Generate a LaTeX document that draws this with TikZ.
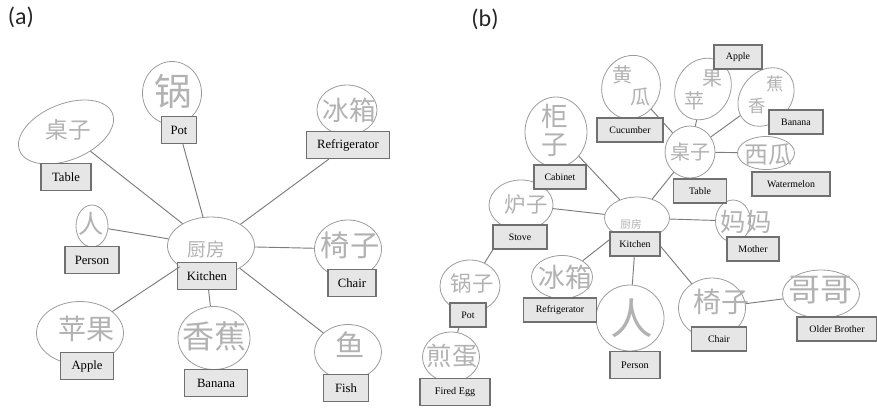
\documentclass[tikz,border=0pt]{standalone}
\usepackage{fontspec}
\setmainfont{Liberation Serif}
\newfontfamily\cjk{Noto Sans CJK SC}
\newfontfamily\tagfont{Carlito}
\usetikzlibrary{shapes.geometric}
\definecolor{strokegray}{HTML}{9C9C9C}
\definecolor{linkgray}{HTML}{7C7C7C}
\definecolor{boxfill}{HTML}{E6E6E6}
\definecolor{boxedge}{HTML}{707070}
\definecolor{glyph}{HTML}{B2B2B2}
\begin{document}
\begin{tikzpicture}[x=0.75pt,y=-0.75pt,
  bubble/.style n args={2}{draw=strokegray, line width=0.6pt, ellipse, inner sep=0pt,
    minimum width=#1*0.75pt, minimum height=#2*0.75pt},
  taga/.style={draw=boxedge, fill=boxfill, line width=1pt, inner sep=0pt,
    minimum height=27*0.75pt, minimum width=#1*0.75pt, font=\fontsize{9.5}{10}\selectfont},
  tagb/.style={draw=boxedge, fill=boxfill, line width=1pt, inner sep=0pt,
    minimum height=24*0.75pt, minimum width=#1*0.75pt, font=\fontsize{7.4}{8}\selectfont},
  han/.style={text=glyph, inner sep=0pt, font=\cjk\fontsize{#1}{#1}\selectfont},
  link/.style={draw=linkgray, line width=0.7pt},
  panel/.style={inner sep=0pt, font=\tagfont\fontsize{18}{20}\selectfont, text=black!85}
]
\fill[white] (0,0) rectangle (877,408);
\useasboundingbox (0,0) rectangle (877,408);

% ---------------- panel (a) ----------------
\node[panel] (capA) at (21,17) {(a)};

\node[bubble={100}{56}, rotate=22] (tblA) at (66,132) {};
\node[bubble={59}{63}] (potA) at (172,93) {};
\node[bubble={60}{50}] (friA) at (347,110) {};
\node[bubble={87}{58}] (kitA) at (211,246) {};
\node[bubble={32}{42}] (perA) at (92,226) {};
\node[bubble={87}{63}] (appA) at (80,333) {};
\node[bubble={72}{63}] (banA) at (214,338) {};
\node[bubble={67}{58}] (chaA) at (348,249) {};
\node[bubble={67}{55}] (fisA) at (348,352) {};

\node[han=17] (hTblA) at (68,130) {桌子};
\node[han=28] (hPotA) at (173,91) {锅};
\node[han=20] (hFriA) at (349,110) {冰箱};
\node[han=14] (hKitA) at (206,249) {厨房};
\node[han=19] (hPerA) at (91,224) {人};
\node[han=21] (hAppA) at (86,329) {苹果};
\node[han=24] (hBanA) at (214,336) {香蕉};
\node[han=22] (hChaA) at (350,245) {椅子};
\node[han=22] (hFisA) at (350,345) {鱼};

\node[taga=50] (tTblA) at (66,177) {Table};
\node[taga=35] (tPotA) at (179,130) {Pot};
\node[taga=83] (tFriA) at (348,145) {Refrigerator};
\node[taga=59] (tKitA) at (207,276) {Kitchen};
\node[taga=54] (tPerA) at (92,260) {Person};
\node[taga=53] (tAppA) at (87,366) {Apple};
\node[taga=63] (tBanA) at (216,383) {Banana};
\node[taga=48] (tChaA) at (352,283) {Chair};
\node[taga=45] (tFisA) at (346,388) {Fish};

% ---------------- panel (b) ----------------
\node[panel] (capB) at (485,19) {(b)};

\node[bubble={62}{70}] (cabB) at (556,132) {};
\node[bubble={58}{64}, rotate=-20] (cucB) at (631,87) {};
\node[bubble={54}{64}, rotate=-30] (appB) at (703,89) {};
\node[bubble={64}{50}, rotate=50] (banB) at (766,97) {};
\node[bubble={50}{52}] (tblB) at (690,152) {};
\node[bubble={57}{33}] (watB) at (766,153) {};
\node[bubble={65}{42}] (kitB) at (637,218) {};
\node[bubble={64}{50}] (stoB) at (521,205) {};
\node[bubble={60}{52}] (potB) at (470,286) {};
\node[bubble={57}{50}] (eggB) at (451,357) {};
\node[bubble={61}{43}] (friB) at (562,277) {};
\node[bubble={68}{66}] (perB) at (630,318) {};
\node[bubble={35}{42}] (motB) at (733,221) {};
\node[bubble={67}{60}] (chaB) at (712,308) {};
\node[bubble={77}{48}] (broB) at (821,294) {};

% characters written on a slant are set one by one
\node[han=20] (hCabB1) at (555,116) {柜};
\node[han=20] (hCabB2) at (555,145) {子};
\node[han=15] (hCucB1) at (622,75) {黄};
\node[han=15] (hCucB2) at (640,97) {瓜};
\node[han=15] (hAppB1) at (694,101) {苹};
\node[han=15] (hAppB2) at (712,78) {果};
\node[han=13] (hBanB1) at (757,106) {香};
\node[han=13] (hBanB2) at (775,84) {蕉};
\node[han=15] (hTblB) at (690,152) {桌子};
\node[han=18] (hWatB) at (768,155) {西瓜};
\node[han=8] (hKitB) at (631,224) {厨房};
\node[han=16] (hStoB) at (526,204) {炉子};
\node[han=16] (hPotB) at (472,283) {锅子};
\node[han=19] (hEggB) at (452,356) {煎蛋};
\node[han=20] (hFriB) at (565,277) {冰箱};
\node[han=32] (hPerB) at (632,318) {人};
\node[han=19] (hMotB) at (746,222) {妈妈};
\node[han=21] (hChaB) at (721,302) {椅子};
\node[han=24] (hBroB) at (820,290) {哥哥};

% ---------------- connectors ----------------
\draw[link] (kitA) -- (tblA);
\draw[link] (kitA) -- (tPotA);
\draw[link] (kitA) -- (tFriA);
\draw[link] (kitA) -- (chaA);
\draw[link] (kitA) -- (fisA);
\draw[link] (tKitA) -- (banA);
\draw[link] (kitA) -- (appA);
\draw[link] (kitA) -- (perA);

\draw[link] (kitB) -- (cabB);
\draw[link] (kitB) -- (tblB);
\draw[link] (kitB) -- (stoB);
\draw[link] (kitB) -- (motB);
\draw[link] (friB) -- (kitB);
\draw[link] (kitB) -- (perB);
\draw[link] (kitB) -- (chaB);
\draw[link] (stoB) -- (potB);
\draw[link] (potB) -- (eggB);
\draw[link] (chaB) -- (broB);
\draw[link] (tblB) -- (cucB);
\draw[link] (tblB) -- (appB);
\draw[link] (tblB) -- (banB);
\draw[link] (tblB) -- (watB);

% ---------------- labels of panel (b) ----------------
\node[tagb=52] (tCabB) at (560,177) {Cabinet};
\node[tagb=66] (tCucB) at (630,130) {Cucumber};
\node[tagb=48] (tAppB) at (738,57) {Apple};
\node[tagb=54] (tBanB) at (796,122) {Banana};
\node[tagb=53] (tTblB) at (700,191) {Table};
\node[tagb=78] (tWatB) at (791,184) {Watermelon};
\node[tagb=50] (tKitB) at (635,244) {Kitchen};
\node[tagb=54] (tStoB) at (520,237) {Stove};
\node[tagb=36] (tPotB) at (468,315) {Pot};
\node[taga=70] (tEggB) at (455,392) {\fontsize{7.6}{8}\selectfont Fired Egg};
\node[tagb=73] (tFriB) at (560,310) {Refrigerator};
\node[taga=50] (tPerB) at (635,365) {\fontsize{7.6}{8}\selectfont Person};
\node[tagb=52] (tMotB) at (753,249) {Mother};
\node[tagb=55] (tChaB) at (719,339) {Chair};
\node[tagb=80] (tBroB) at (837,329) {Older Brother};
\end{tikzpicture}
\end{document}
